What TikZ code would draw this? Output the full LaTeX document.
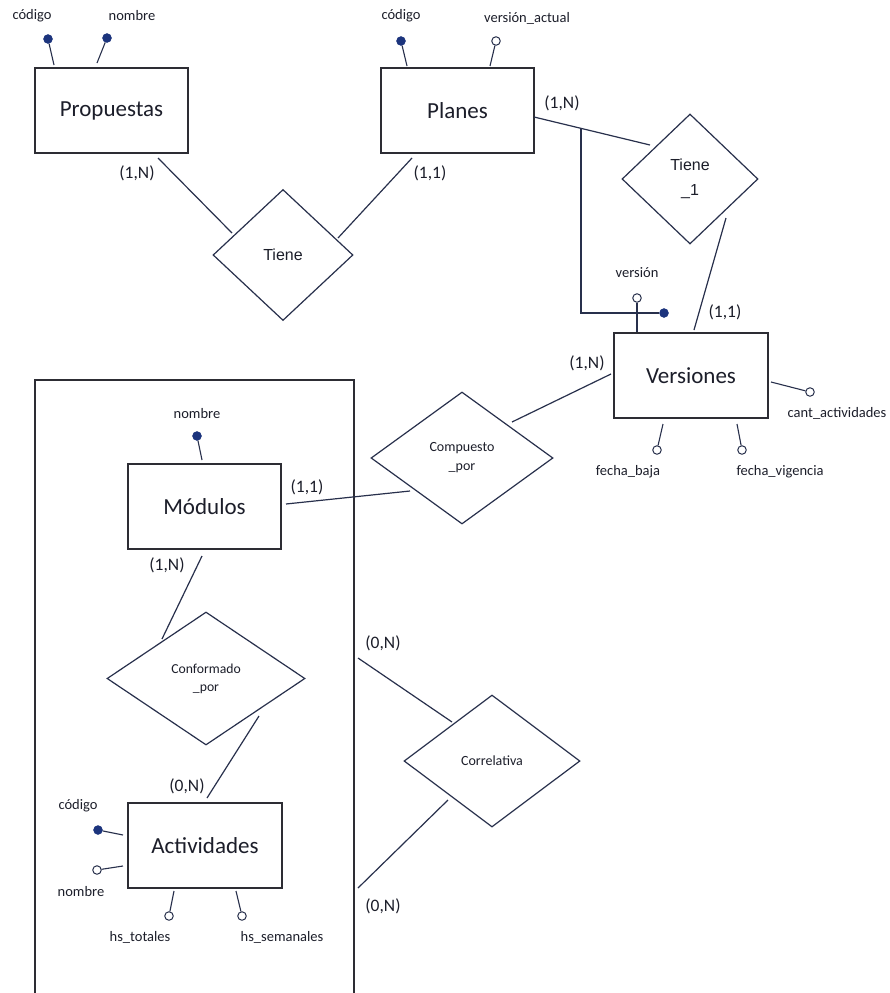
\documentclass[tikz,border=0pt]{standalone}
\usepackage{fontspec}
\setmainfont{Carlito}
\newfontfamily\arialf{Liberation Sans}
\usetikzlibrary{shapes.geometric}
\definecolor{ln}{RGB}{40,48,76}
\definecolor{bx}{RGB}{45,45,52}
\definecolor{tx}{RGB}{28,30,42}
\definecolor{dotc}{RGB}{28,52,125}
\tikzset{
  entity/.style={draw=bx, line width=1.2pt, minimum width=153pt, minimum height=85pt, inner sep=0pt, text=tx, font=\fontsize{23}{27}\selectfont},
  rel/.style={diamond, draw=ln, line width=1.2pt, inner sep=0pt, text=tx, align=center},
  keyattr/.style={circle, fill=dotc, draw=dotc, inner sep=0pt, minimum size=9pt},
  optattr/.style={circle, fill=white, draw=ln, line width=1pt, inner sep=0pt, minimum size=8.5pt},
  attrlbl/.style={text=tx, font=\fontsize{14.5}{16}\selectfont, inner sep=0pt},
  card/.style={text=tx, font=\fontsize{17.5}{20}\selectfont, inner sep=0pt},
  conn/.style={draw=ln, line width=1.2pt},
  attrline/.style={draw=ln, line width=1.1pt}
}
\begin{document}
\begin{tikzpicture}[x=1pt,y=-1pt]
\useasboundingbox (0,0) rectangle (890,993);
\fill[white] (0,0) rectangle (890,993);

% aggregation frame
\draw[draw=bx, line width=1.2pt] (35,1000) -- (35,380) -- (354,380) -- (354,1000);

% entities
\node[entity] (prop) at (111.5,110.5) {Propuestas};
\node[entity] (plan) at (457.5,110.5) {Planes};
\node[entity, minimum width=154pt] (vers) at (691,375.5) {Versiones};
\node[entity] (mod) at (204.5,506.5) {Módulos};
\node[entity, minimum width=154pt] (act) at (205,845.5) {Actividades};

% relationships
\node[rel, minimum width=140pt, minimum height=131pt, font=\arialf\fontsize{16}{20}\selectfont] (tiene) at (283,255) {Tiene};
\node[rel, minimum width=136pt, minimum height=130pt, font=\arialf\fontsize{16}{25}\selectfont] (tiene1) at (690,179) {Tiene\\\_1};
\node[rel, minimum width=182pt, minimum height=132pt, font=\fontsize{14}{19}\selectfont] (comp) at (462,458) {Compuesto\\\_por};
\node[rel, minimum width=198pt, minimum height=133pt, font=\fontsize{13.7}{18}\selectfont] (conf) at (206,678.5) {Conformado\\\_por};
\node[rel, minimum width=176pt, minimum height=132pt, font=\fontsize{14}{17}\selectfont] (corr) at (492,761) {Correlativa};

% connector end points
\coordinate (prop-s) at (158,158);
\coordinate (tiene-nw) at (232,233);
\coordinate (plan-s) at (412,158);
\coordinate (tiene-ne) at (338,238);
\coordinate (plan-e) at (534,117);
\coordinate (tiene1-w) at (650,145);
\coordinate (fk-top) at (581,128.3);
\coordinate (fk-corner) at (581,313);
\coordinate (tiene1-se) at (726,218);
\coordinate (vers-n) at (694,330);
\coordinate (vers-w) at (611,374);
\coordinate (comp-ne) at (512,422);
\coordinate (comp-sw) at (410,491);
\coordinate (mod-e) at (286,504);
\coordinate (mod-s) at (202,556);
\coordinate (conf-nw) at (162,639);
\coordinate (conf-se) at (259,716);
\coordinate (act-n) at (207,798);
\coordinate (agg-up) at (358,658);
\coordinate (corr-nw) at (452,722);
\coordinate (corr-sw) at (448,800);
\coordinate (agg-lo) at (358,888);

% connectors
\draw[conn] (prop-s) -- (tiene-nw);
\draw[conn] (plan-s) -- (tiene-ne);
\draw[conn] (plan-e) -- (tiene1-w);
\draw[conn] (tiene1-se) -- (vers-n);
\draw[conn] (vers-w) -- (comp-ne);
\draw[conn] (comp-sw) -- (mod-e);
\draw[conn] (mod-s) -- (conf-nw);
\draw[conn] (conf-se) -- (act-n);
\draw[conn] (agg-up) -- (corr-nw);
\draw[conn] (corr-sw) -- (agg-lo);

% cardinalities
\node[card] (c1) at (137,173) {(1,N)};
\node[card] (c2) at (430,173) {(1,1)};
\node[card] (c3) at (562,103) {(1,N)};
\node[card] (c4) at (725,312) {(1,1)};
\node[card] (c5) at (587,363) {(1,N)};
\node[card] (c6) at (307,487) {(1,1)};
\node[card] (c7) at (167,565) {(1,N)};
\node[card] (c8) at (187,786) {(0,N)};
\node[card] (c9) at (383,643) {(0,N)};
\node[card] (c10) at (383,906) {(0,N)};

% Propuestas attributes
\node[keyattr] (pk1) at (48,39) {};
\node[attrlbl] (pl1) at (32,16) {código};
\coordinate (pa1) at (54,65);
\draw[attrline] (pa1) -- (pk1);
\node[keyattr] (pk2) at (107,38) {};
\node[attrlbl] (pl2) at (132,16) {nombre};
\coordinate (pa2) at (97,63);
\draw[attrline] (pa2) -- (pk2);

% Planes attributes
\node[keyattr] (lk1) at (401,41) {};
\node[attrlbl] (ll1) at (401,16) {código};
\coordinate (la1) at (407,66);
\draw[attrline] (la1) -- (lk1);
\node[optattr] (lo2) at (496,41) {};
\node[attrlbl] (ll2) at (527,18) {versión\_actual};
\coordinate (la2) at (490,66);
\draw[attrline] (la2) -- (lo2);

% Versiones attributes
\node[optattr] (vo1) at (637,298) {};
\node[attrlbl] (vl1) at (637,273) {versión};
\coordinate (va1) at (637,332);
\draw[attrline] (va1) -- (vo1);
\node[keyattr] (vk) at (664,313) {};
\draw[conn] (fk-top) -- (fk-corner) -- (vk);
\node[optattr] (vo2) at (810,392) {};
\node[attrlbl] (vl2) at (837,413) {cant\_actividades};
\coordinate (va2) at (771,382);
\draw[attrline] (va2) -- (vo2);
\node[optattr] (vo3) at (657,450) {};
\node[attrlbl] (vl3) at (628,472) {fecha\_baja};
\coordinate (va3) at (663,424);
\draw[attrline] (va3) -- (vo3);
\node[optattr] (vo4) at (742,450) {};
\node[attrlbl] (vl4) at (780,472) {fecha\_vigencia};
\coordinate (va4) at (737,424);
\draw[attrline] (va4) -- (vo4);

% Modulos attributes
\node[keyattr] (mk1) at (197,436) {};
\node[attrlbl] (ml1) at (197,414) {nombre};
\coordinate (ma1) at (202,460);
\draw[attrline] (ma1) -- (mk1);

% Actividades attributes
\node[keyattr] (ak1) at (98,830) {};
\node[attrlbl] (al1) at (78,806) {código};
\coordinate (aa1) at (123,835);
\draw[attrline] (aa1) -- (ak1);
\node[optattr] (ao2) at (97,870) {};
\node[attrlbl] (al2) at (81,892) {nombre};
\coordinate (aa2) at (123,866);
\draw[attrline] (aa2) -- (ao2);
\node[optattr] (ao3) at (169,916) {};
\node[attrlbl] (al3) at (140,937) {hs\_totales};
\coordinate (aa3) at (174,891);
\draw[attrline] (aa3) -- (ao3);
\node[optattr] (ao4) at (242,916) {};
\node[attrlbl] (al4) at (282,937) {hs\_semanales};
\coordinate (aa4) at (236,891);
\draw[attrline] (aa4) -- (ao4);
\end{tikzpicture}
\end{document}
